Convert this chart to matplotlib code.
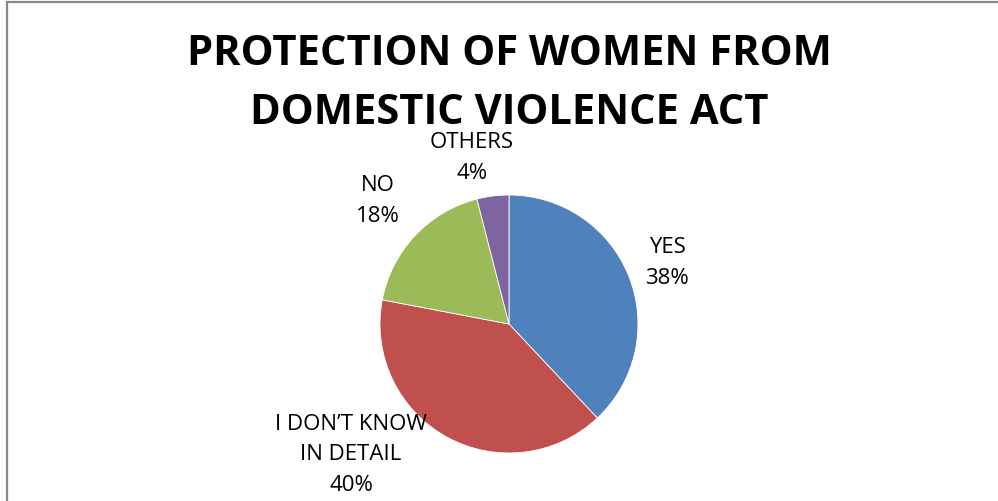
import matplotlib
matplotlib.use('Agg')
import matplotlib.pyplot as plt
from matplotlib.patches import Rectangle

# chart data
labels = ['YES', 'I DON\u2019T KNOW\nIN DETAIL', 'NO', 'OTHERS']
values = [38, 40, 18, 4]
colors = ['#4F81BD', '#C0504D', '#9BBB59', '#8064A2']
title = 'PROTECTION OF WOMEN FROM\nDOMESTIC VIOLENCE ACT'

W, H = 998, 502
cx, cy, r = 509, 325, 129

plt.rcParams['font.family'] = ['Open Sans', 'DejaVu Sans']
fig = plt.figure(figsize=(W/100, H/100), dpi=100)

# pie axes sized so radius 1 == r pixels
ax = fig.add_axes([(cx-r)/W, (H-cy-r)/H, 2*r/W, 2*r/H])
wedges, _ = ax.pie(values, colors=colors, startangle=90, counterclock=False,
                   radius=1, wedgeprops=dict(edgecolor='white', linewidth=0.6))
ax.set_xlim(-1, 1)
ax.set_ylim(-1, 1)
ax.set_aspect('equal')
ax.axis('off')

# label positions (pixel centers)
label_pos = [(667, 263), (351, 455), (378, 201), (472, 158)]
for lab, v, (px, py) in zip(labels, values, label_pos):
    ax.text((px-cx)/r, (cy-py)/r, '%s\n%d%%' % (lab, v), ha='center', va='center',
            fontsize=16, linespacing=1.62, clip_on=False)

fig.text(509/W, 1-84/H, title, ha='center', va='center', fontsize=30,
         fontweight='bold', linespacing=1.6)

# chart frame (only left and top edges visible)
fig.add_artist(Rectangle((6.5/W, -0.5), 2.0, 1-2.5/H+0.5, transform=fig.transFigure,
                         fill=False, edgecolor='#888888', linewidth=1.6))

fig.savefig('out.png', dpi=100)
